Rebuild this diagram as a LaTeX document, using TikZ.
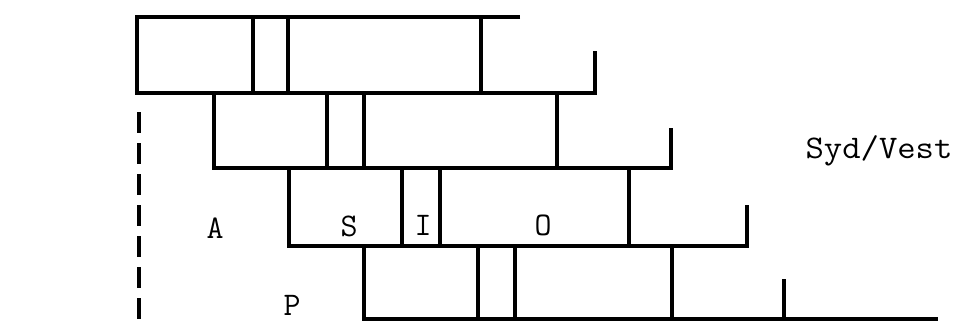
\documentclass[tikz,border=0pt]{standalone}
\begin{document}
\begin{tikzpicture}[x=1pt,y=-1pt,
  wall/.style={line width=3.1pt, line cap=butt, line join=miter},
  dashwall/.style={line width=3.1pt, dash pattern=on 21pt off 10pt},
  lbl/.style={font=\fontsize{33}{34}\selectfont\ttfamily, inner sep=0pt, anchor=base}]
\useasboundingbox (0,0) rectangle (961,321);
% row 1
\draw[wall] (520,17) -- (137,17) -- (137,93) -- (595,93) -- (595,51);
\draw[wall] (253,17) -- (253,93);
\draw[wall] (288,17) -- (288,93);
\draw[wall] (481,17) -- (481,93);
% row 2
\draw[wall] (214,93) -- (214,168) -- (671,168) -- (671,128);
\draw[wall] (327,93) -- (327,168);
\draw[wall] (364,93) -- (364,168);
\draw[wall] (557,93) -- (557,168);
% row 3
\draw[wall] (289,168) -- (289,246) -- (747,246) -- (747,205);
\draw[wall] (402,168) -- (402,246);
\draw[wall] (440,168) -- (440,246);
\draw[wall] (629,168) -- (629,246);
% row 4
\draw[wall] (364,246) -- (364,319) -- (938,319);
\draw[wall] (478,246) -- (478,319);
\draw[wall] (515,246) -- (515,319);
\draw[wall] (672,246) -- (672,319);
\draw[wall] (784,319) -- (784,279);
% dashed line
\draw[dashwall] (139,112) -- (139,321);
% labels
\node[lbl] (A) at (215,238) {A};
\node[lbl] (S) at (349,236) {S};
\node[lbl] (I) at (423,235) {I};
\node[lbl] (O) at (543,235) {O};
\node[lbl] (P) at (292,315) {P};
\node[lbl] (SV) at (879,158) {\scalebox{1.08}[1]{Syd/Vest}};
\end{tikzpicture}
\end{document}
